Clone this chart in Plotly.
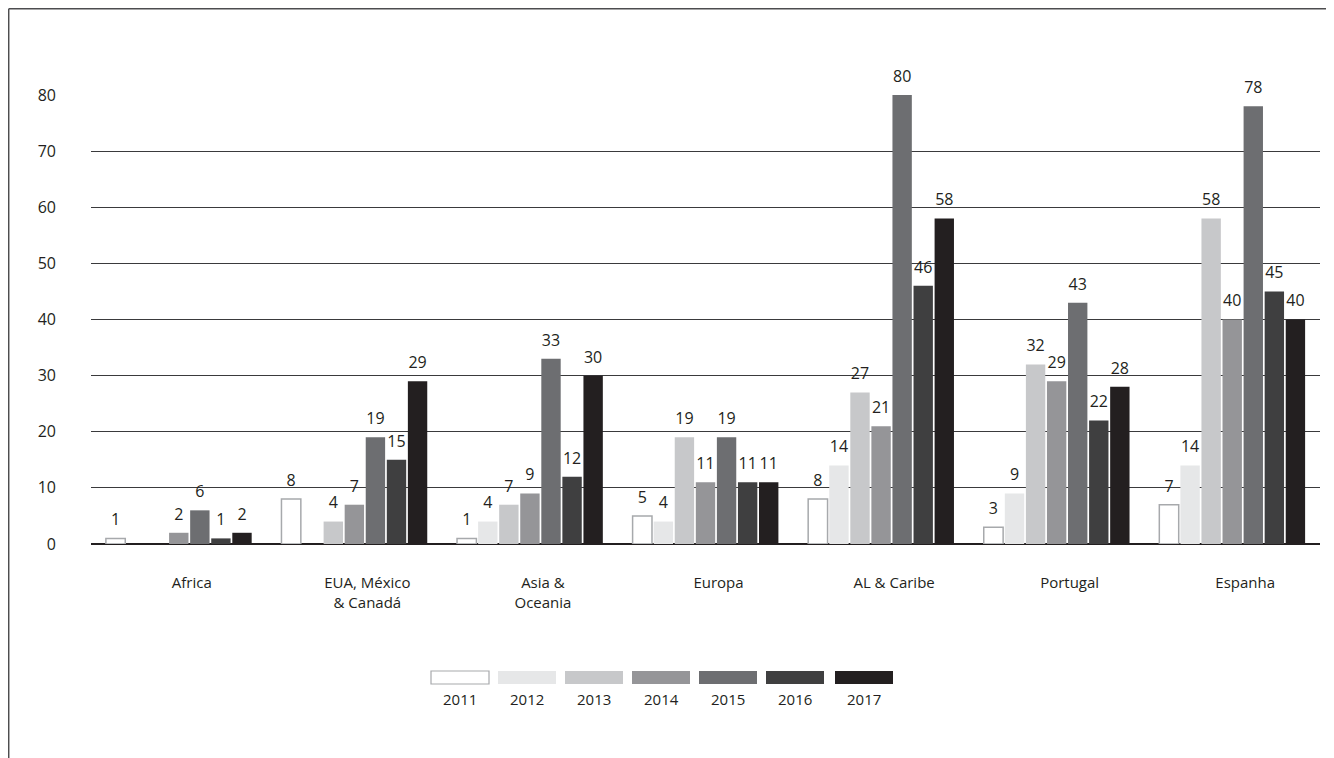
import plotly.graph_objects as go

categories = ["Africa", "EUA, México<br>& Canadá", "Asia &<br>Oceania", "Europa",
              "AL & Caribe", "Portugal", "Espanha"]
years = ["2011", "2012", "2013", "2014", "2015", "2016", "2017"]
v2011 = [1, 8, 1, 5, 8, 3, 7]
v2012 = [None, None, 4, 4, 14, 9, 14]
v2013 = [None, 4, 7, 19, 27, 32, 58]
v2014 = [2, 7, 9, 11, 21, 29, 40]
v2015 = [6, 19, 33, 19, 80, 43, 78]
v2016 = [1, 15, 12, 11, 46, 22, 45]
v2017 = [2, 29, 30, 11, 58, 28, 40]
series = [v2011, v2012, v2013, v2014, v2015, v2016, v2017]
colors = ["#ffffff", "#e6e7e8", "#c7c8ca", "#959598", "#6d6e71", "#3f3f40", "#231f20"]
y_ticks = [0, 10, 20, 30, 40, 50, 60, 70, 80]

FONT = "Open Sans"
TXT = "#231f20"
GAP = 0.16

fig = go.Figure()
for yr, vals, col in zip(years, series, colors):
    fig.add_trace(go.Bar(
        x=categories, y=vals, name=yr,
        marker=dict(color=col,
                    line=dict(color="#a7a9ac" if col == "#ffffff" else col,
                              width=1.5 if col == "#ffffff" else 0)),
        showlegend=False, hoverinfo="skip",
    ))
# value labels: grouped scatter text sitting above each bar
for yr, vals in zip(years, series):
    fig.add_trace(go.Scatter(
        x=categories, y=vals, name=yr + " labels", mode="markers+text",
        marker=dict(size=13, opacity=0),
        text=[None if v is None else str(v) for v in vals],
        textposition="top center", cliponaxis=False,
        textfont=dict(family=FONT, size=16, color=TXT),
        showlegend=False, hoverinfo="skip",
    ))

OFF = 8  # page body margin
W, H = 1334, 758
L, R, T, B = 91 - OFF, 22, 95 - OFF, 222
pw, ph = W - L - R, H - T - B


def px(x):  # page x -> paper
    return (x - OFF - L) / pw


def py(y):  # page y -> paper
    return (H - B - (y - OFF)) / ph


shapes = []
annotations = []
# outer frame (top and left edges)
shapes.append(dict(type="line", xref="paper", yref="paper", x0=px(8.7), x1=px(1345),
                   y0=py(8.7), y1=py(8.7), line=dict(color="#4d4d4f", width=1.5)))
shapes.append(dict(type="line", xref="paper", yref="paper", x0=px(8.7), x1=px(8.7),
                   y0=py(8.7), y1=py(780), line=dict(color="#4d4d4f", width=1.5)))

# custom legend: swatch above label
sw_left = [431, 498, 565, 632, 699, 766, 835]
for i, (yr, col) in enumerate(zip(years, colors)):
    x0 = sw_left[i]
    shapes.append(dict(type="rect", xref="paper", yref="paper",
                       x0=px(x0), x1=px(x0 + 58), y0=py(684), y1=py(671),
                       fillcolor=col,
                       line=dict(color="#a7a9ac" if col == "#ffffff" else col,
                                 width=1.2 if col == "#ffffff" else 0)))
    annotations.append(dict(xref="paper", yref="paper", x=px(x0 + 29), y=py(699),
                            text=yr, showarrow=False, xanchor="center", yanchor="middle",
                            font=dict(family=FONT, size=15, color=TXT)))

fig.update_layout(
    width=W, height=H,
    margin=dict(l=L, r=R, t=T, b=B),
    paper_bgcolor="white", plot_bgcolor="white",
    barmode="group", bargap=GAP, bargroupgap=0.08,
    scattermode="group", scattergap=GAP,
    font=dict(family=FONT, size=15, color=TXT),
    xaxis=dict(showgrid=False, showline=False, ticks="", zeroline=False,
               tickfont=dict(family=FONT, size=15, color=TXT),
               ticklabelstandoff=28, ticklabelshift=13),
    yaxis=dict(range=[0, 80], tickvals=y_ticks, showgrid=True,
               gridcolor="#3a3a3c", gridwidth=1, zeroline=True,
               zerolinecolor="#231f20", zerolinewidth=1.5, showline=False,
               ticks="", ticklabelstandoff=34,
               tickfont=dict(family=FONT, size=16, color=TXT)),
    shapes=shapes, annotations=annotations,
)

fig.write_html("out.html", config={"displayModeBar": False})
